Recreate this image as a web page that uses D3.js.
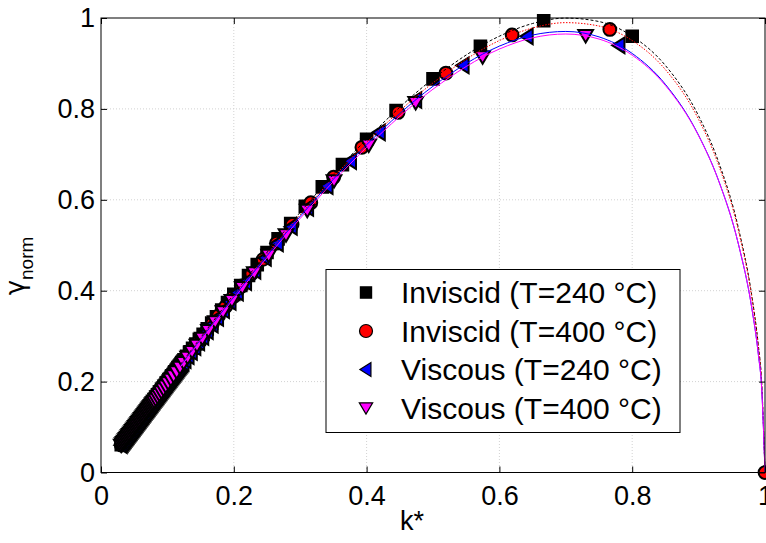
<!DOCTYPE html>
<html>
<head>
<meta charset="utf-8">
<script src="https://cdn.jsdelivr.net/npm/d3@7"></script>
<style>
  body { margin: 0; background: #fff; }
  svg { display: block; font-family: "Liberation Sans", Arial, sans-serif; }
</style>
</head>
<body>
<svg id="chart" width="766" height="543"></svg>
<script>
// ---- axis ticks ----
const xTicks = [0, 0.2, 0.4, 0.6, 0.8, 1];
const xTickLabels = ["0", "0.2", "0.4", "0.6", "0.8", "1"];
const yTicks = [0, 0.2, 0.4, 0.6, 0.8, 1];
const yTickLabels = ["0", "0.2", "0.4", "0.6", "0.8", "1"];

// ---- legend entries ----
const seriesNames = ["Inviscid (T=240 °C)", "Inviscid (T=400 °C)", "Viscous (T=240 °C)", "Viscous (T=400 °C)"];

// ---- computed growth rates (k*, gamma_norm), listed from high k* to low k* ----
const inv240K = [0.800,0.6667,0.5714,0.500,0.4444,0.400,0.3636,0.3333,0.3077,0.2857,0.2667,0.250,0.2353,0.2222,0.2105,0.200,0.1905,0.1818,0.1739,0.1667,0.160,0.1538,0.1481,0.1429,0.1379,0.1333,0.1290,0.125];
const inv240G = [0.960,0.9938,0.9380,0.8660,0.7963,0.7332,0.6775,0.6285,0.5855,0.5476,0.5140,0.4841,0.4574,0.4333,0.4116,0.3919,0.3740,0.3576,0.3425,0.3287,0.3159,0.3040,0.2930,0.2828,0.2733,0.2643,0.2559,0.2480];

const inv400K = [1.000,0.7663,0.6192,0.5195,0.4474,0.3929,0.3503,0.3160,0.2878,0.2642,0.2442,0.2270,0.2121,0.1990,0.1874,0.1771,0.1679,0.1596,0.1521,0.1452,0.1390,0.1332,0.1280];
const inv400G = [0,0.9749,0.9627,0.8789,0.7922,0.7154,0.6496,0.5936,0.5457,0.5045,0.4689,0.4377,0.4104,0.3861,0.3645,0.3451,0.3277,0.3120,0.2977,0.2844,0.2725,0.2614,0.2514];

const vis240K = [0.7800,0.6418,0.5453,0.4739,0.4191,0.3757,0.3404,0.3111,0.2865,0.2655,0.2474,0.2316,0.2177,0.2053,0.1943,0.1844,0.1755,0.1674,0.1600,0.1532,0.1470,0.1413,0.1360,0.1311,0.1265];
const vis240G = [0.9399,0.9596,0.8956,0.8196,0.7483,0.6851,0.6301,0.5822,0.5405,0.5041,0.4721,0.4438,0.4186,0.3958,0.3755,0.3570,0.3404,0.3251,0.3112,0.2982,0.2864,0.2756,0.2654,0.2560,0.2472];

// long-wave tail shared by the 240 °C inviscid, 400 °C inviscid and 240 °C viscous runs
const tailK = [0.1235,0.1220,0.1205,0.1190,0.1175,0.1160,0.1145,0.1130,0.1115,0.1100,0.1085,0.1070,0.1055,0.1040,0.1025,0.1010,0.0995,0.0980,0.0965,0.0950,0.0935,0.0920,0.0905,0.0890,0.0875,0.0860,0.0845,0.0830,0.0815,0.0800,
  0.0785,0.0770,0.0755,0.0740,0.0725,0.0710,0.0695,0.0680,0.0665,0.0650,0.0635,0.0620,0.0605,0.0590,0.0575,0.0560,0.0545,0.0530,0.0515,0.0500,0.0485,0.0470,0.0455,0.0440,0.0425,0.0410,0.0395,0.0380,0.0365,0.0350,0.0335,0.0320,0.0305];
const inv240TailG = [0.2451,0.2422,0.2392,0.2363,0.2334,0.2304,0.2275,0.2246,0.2216,0.2187,0.2157,0.2128,0.2098,0.2069,0.2039,0.2010,0.1980,0.1951,0.1921,0.1891,0.1862,0.1832,0.1803,0.1773,0.1743,0.1714,0.1684,0.1654,0.1625,0.1595,
  0.1565,0.1535,0.1506,0.1476,0.1446,0.1416,0.1387,0.1357,0.1327,0.1297,0.1267,0.1238,0.1208,0.1178,0.1148,0.1118,0.1088,0.1059,0.1029,0.0999,0.0969,0.0939,0.0909,0.0879,0.0849,0.0819,0.0789,0.0759,0.0730,0.0700,0.0670,0.0640,0.0610];
const inv400TailG = [0.2427,0.2398,0.2368,0.2339,0.2311,0.2281,0.2252,0.2224,0.2194,0.2165,0.2135,0.2107,0.2077,0.2048,0.2019,0.1990,0.1960,0.1931,0.1902,0.1872,0.1843,0.1814,0.1785,0.1755,0.1726,0.1697,0.1667,0.1637,0.1609,0.1579,
  0.1549,0.1520,0.1491,0.1461,0.1432,0.1402,0.1373,0.1343,0.1314,0.1284,0.1254,0.1226,0.1196,0.1166,0.1137,0.1107,0.1077,0.1048,0.1019,0.0989,0.0959,0.0930,0.0900,0.0870,0.0841,0.0811,0.0781,0.0751,0.0723,0.0693,0.0663,0.0634,0.0604];
const vis240TailG = [0.2414,0.2386,0.2356,0.2328,0.2299,0.2269,0.2241,0.2212,0.2183,0.2154,0.2125,0.2096,0.2067,0.2038,0.2008,0.1980,0.1950,0.1922,0.1892,0.1863,0.1834,0.1805,0.1776,0.1746,0.1717,0.1688,0.1659,0.1629,0.1601,0.1571,
  0.1542,0.1512,0.1483,0.1454,0.1424,0.1395,0.1366,0.1337,0.1307,0.1278,0.1248,0.1219,0.1190,0.1160,0.1131,0.1101,0.1072,0.1043,0.1014,0.0984,0.0954,0.0925,0.0895,0.0866,0.0836,0.0807,0.0777,0.0748,0.0719,0.0690,0.0660,0.0630,0.0601];

const vis400K = [0.7299,0.5747,0.4739,0.4032,0.3509,0.3106,0.2786,0.2525,0.2309,0.2128,0.1972,0.1838,0.1721,0.1618,0.1527,0.1445,0.1372,0.1305,0.1245,0.1190,0.1140,0.1094,0.1052,0.1012,0.0976,0.0942,0.0910,0.0880,0.0853,0.0826,0.0802,
  0.0785,0.0770,0.0755,0.0740,0.0725,0.0710,0.0695,0.0680,0.0665,0.0650,0.0635,0.0620,0.0605,0.0590,0.0575,0.0560,0.0545,0.0530,0.0515,0.0500,0.0485,0.0470,0.0455,0.0440,0.0425,0.0410,0.0395,0.0380,0.0365,0.0350,0.0335,0.0320,0.0305];
const vis400G = [0.9607,0.9139,0.8133,0.7200,0.6416,0.5765,0.5226,0.4773,0.4389,0.4063,0.3778,0.3530,0.3313,0.3120,0.2949,0.2794,0.2655,0.2528,0.2414,0.2309,0.2213,0.2125,0.2044,0.1967,0.1898,0.1833,0.1771,0.1713,0.1661,0.1608,0.1562,
  0.1529,0.1500,0.1471,0.1442,0.1413,0.1384,0.1355,0.1326,0.1297,0.1267,0.1238,0.1209,0.1180,0.1151,0.1122,0.1093,0.1063,0.1034,0.1005,0.0976,0.0946,0.0917,0.0888,0.0859,0.0830,0.0801,0.0772,0.0742,0.0713,0.0684,0.0655,0.0625,0.0596];

// ---- fitted dispersion curves ----
const fitK       = [0.12, 0.2, 0.3, 0.4, 0.5, 0.6, 0.65, 0.7, 0.75, 0.8, 0.85, 0.9, 0.93, 0.96, 0.98, 0.99, 0.995, 1.0];
const fitInv240  = [0.2383,0.3919,0.5724,0.7332,0.8660,0.9600,0.9879,0.9998,0.9922,0.9600,0.8955,0.7846,0.6837,0.5376,0.3900,0.2794,0.1989,0];
const fitInv400  = [0.2359,0.3880,0.5667,0.7259,0.8573,0.9504,0.9780,0.9898,0.9823,0.9504,0.8865,0.7768,0.6769,0.5322,0.3861,0.2766,0.1969,0];
const fitVis240  = [0.2347,0.3860,0.5635,0.7211,0.8498,0.9381,0.9625,0.9704,0.9585,0.9220,0.8540,0.7419,0.6428,0.5021,0.3626,0.2591,0.1842,0];
const fitVis400  = [0.2328,0.3828,0.5590,0.7154,0.8434,0.9317,0.9564,0.9648,0.9537,0.9182,0.8515,0.7408,0.6424,0.5024,0.3631,0.2596,0.1846,0];

// ---- layout ----
const W = 766, H = 543;
const plot = { left: 101, top: 18, right: 765, bottom: 472.5 };
const x = d3.scaleLinear().domain([0, 1]).range([plot.left, plot.right]);
const y = d3.scaleLinear().domain([0, 1]).range([plot.bottom, plot.top]);

const svg = d3.select("#chart");
svg.append("rect").attr("width", W).attr("height", H).attr("fill", "#fff");

// marker outlines, centred on the data point
const shapes = {
  square: s => `M${-s},${-s}H${s}V${s}H${-s}Z`,
  circle: s => `M${-s},0A${s},${s} 0 1,0 ${s},0A${s},${s} 0 1,0 ${-s},0Z`,
  left:   s => `M${-s * 1.05},0L${s * 0.85},${-s * 1.2}L${s * 0.85},${s * 1.2}Z`,
  down:   s => `M0,${s * 1.05}L${-s * 1.15},${-s * 0.9}L${s * 1.15},${-s * 0.9}Z`
};

const series = [
  { name: seriesNames[0], k: inv240K.concat(tailK), g: inv240G.concat(inv240TailG), fit: fitInv240, color: "#000000", shape: "square", size: 5.8, legendSize: 5.6, dash: "3,2" },
  { name: seriesNames[1], k: inv400K.concat(tailK), g: inv400G.concat(inv400TailG), fit: fitInv400, color: "#ff0000", shape: "circle", size: 6.4, legendSize: 6.5, dash: "1.5,1.5" },
  { name: seriesNames[2], k: vis240K.concat(tailK), g: vis240G.concat(vis240TailG), fit: fitVis240, color: "#0000ff", shape: "left",   size: 6.5, legendSize: 5.8, dash: null },
  { name: seriesNames[3], k: vis400K,               g: vis400G,                     fit: fitVis400, color: "#ff00ff", shape: "down",   size: 6.4, legendSize: 5.8, dash: null }
];

// ---- grid ----
const grid = svg.append("g").attr("stroke", "#d2d2d2").attr("stroke-width", 1).attr("stroke-dasharray", "1,2");
grid.selectAll("line.gx").data(xTicks.slice(1, -1)).join("line")
  .attr("x1", d => x(d)).attr("x2", d => x(d)).attr("y1", plot.top).attr("y2", plot.bottom);
grid.selectAll("line.gy").data(yTicks.slice(1, -1)).join("line")
  .attr("y1", d => y(d)).attr("y2", d => y(d)).attr("x1", plot.left).attr("x2", plot.right);

// ---- markers (drawn from low k* upward, so each marker overlaps the previous one) ----
const marks = svg.append("g");
series.forEach(s => {
  const pts = d3.zip(s.k, s.g).reverse();
  marks.append("g").selectAll("path").data(pts).join("path")
    .attr("d", shapes[s.shape](s.size))
    .attr("transform", d => `translate(${x(d[0])},${y(d[1])})`)
    .attr("fill", s.color)
    .attr("stroke", "#000")
    .attr("stroke-width", 2)
    .attr("stroke-linejoin", "miter");
});

// ---- fitted curves ----
const line = d3.line().x(d => x(d[0])).y(d => y(d[1])).curve(d3.curveMonotoneX);
series.forEach(s => {
  svg.append("path")
    .datum(d3.zip(fitK, s.fit))
    .attr("d", line)
    .attr("fill", "none")
    .attr("stroke", s.color)
    .attr("stroke-width", 1)
    .attr("stroke-dasharray", s.dash);
});

// ---- axes (ticks point inwards on all four sides) ----
const fontSize = 27;
function styleAxis(g) {
  g.select(".domain").remove();
  g.selectAll(".tick line").attr("stroke", "#000").attr("stroke-width", 1);
  g.selectAll(".tick text").attr("fill", "#000").attr("font-size", fontSize).attr("font-family", '"Liberation Sans", Arial, sans-serif');
}
svg.append("g").attr("transform", `translate(0,${plot.bottom})`)
  .call(d3.axisBottom(x).tickValues(xTicks).tickFormat((d, i) => xTickLabels[i]).tickSizeInner(-6).tickSizeOuter(0).tickPadding(13))
  .call(styleAxis);
svg.append("g").attr("transform", `translate(0,${plot.top})`)
  .call(d3.axisTop(x).tickValues(xTicks).tickFormat("").tickSizeInner(-6).tickSizeOuter(0))
  .call(styleAxis);
svg.append("g").attr("transform", `translate(${plot.left},0)`)
  .call(d3.axisLeft(y).tickValues(yTicks).tickFormat((d, i) => yTickLabels[i]).tickSizeInner(-6).tickSizeOuter(0).tickPadding(6))
  .call(styleAxis);
svg.append("g").attr("transform", `translate(${plot.right},0)`)
  .call(d3.axisRight(y).tickValues(yTicks).tickFormat("").tickSizeInner(-6).tickSizeOuter(0))
  .call(styleAxis);

// plot frame
svg.append("rect")
  .attr("x", plot.left).attr("y", plot.top)
  .attr("width", plot.right - plot.left).attr("height", plot.bottom - plot.top)
  .attr("fill", "none").attr("stroke", "#000").attr("stroke-width", 1);

// ---- axis titles ----
svg.append("text").attr("x", 412).attr("y", 530).attr("text-anchor", "middle")
  .attr("font-size", fontSize).attr("fill", "#000").text("k*");
const yl = svg.append("text").attr("transform", "translate(24,266) rotate(-90)")
  .attr("text-anchor", "middle").attr("font-size", fontSize).attr("fill", "#000");
yl.append("tspan").attr("font-family", '"DejaVu Sans", sans-serif').attr("font-size", 26).text("γ");
yl.append("tspan").attr("font-size", 19).attr("dy", 9).text("norm");

// ---- legend ----
const legend = svg.append("g");
legend.append("rect").attr("x", 326).attr("y", 269.5).attr("width", 354).attr("height", 163)
  .attr("fill", "#fff").attr("stroke", "#000").attr("stroke-width", 1);
const rowY = [292.5, 331, 369.5, 408];
series.forEach((s, i) => {
  legend.append("path")
    .attr("d", shapes[s.shape](s.legendSize))
    .attr("transform", `translate(366,${rowY[i]})`)
    .attr("fill", s.color).attr("stroke", "#000").attr("stroke-width", 1.2);
  legend.append("text").attr("x", 401).attr("y", rowY[i]).attr("dy", "0.35em")
    .attr("font-size", 30).attr("fill", "#000").text(s.name);
});
</script>
</body>
</html>
